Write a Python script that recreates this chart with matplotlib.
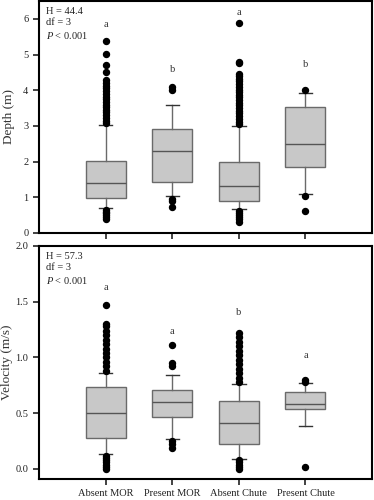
import matplotlib

matplotlib.use("Agg")

import matplotlib.pyplot as plt

plt.rcParams["font.family"] = ["Liberation Serif", "DejaVu Serif"]
plt.rcParams["mathtext.fontset"] = "custom"
plt.rcParams["mathtext.it"] = "Liberation Serif:italic"
plt.rcParams["mathtext.rm"] = "Liberation Serif"

GROUPS = ["Absent MOR", "Present MOR", "Absent Chute", "Present Chute"]

# depth (m): q1, median, q3, whisker low, whisker high
DEPTH_Q1 = [0.97, 1.43, 0.90, 1.85]
DEPTH_MED = [1.40, 2.30, 1.33, 2.50]
DEPTH_Q3 = [2.03, 2.90, 2.00, 3.53]
DEPTH_WLO = [0.70, 1.03, 0.67, 1.08]
DEPTH_WHI = [3.03, 3.60, 3.00, 3.93]
DEPTH_FLIERS = [
    [0.40, 0.45, 0.50, 0.55, 0.60, 0.65, 3.08, 3.15, 3.22, 3.30, 3.38, 3.45,
     3.52, 3.60, 3.68, 3.75, 3.82, 3.90, 3.97, 4.05, 4.12, 4.20, 4.28, 4.50,
     4.70, 5.02, 5.37],
    [0.72, 0.90, 0.95, 4.00, 4.10],
    [0.32, 0.38, 0.44, 0.50, 0.56, 0.62, 3.05, 3.12, 3.20, 3.28, 3.35, 3.42,
     3.50, 3.58, 3.65, 3.72, 3.80, 3.88, 3.95, 4.02, 4.10, 4.18, 4.25, 4.32,
     4.40, 4.45, 4.75, 4.80, 5.87],
    [0.63, 1.03, 4.00],
]
DEPTH_LETTERS = ["a", "b", "a", "b"]
DEPTH_LETTER_Y = [5.83, 4.57, 6.19, 4.72]
DEPTH_STATS = ["H = 44.4", "df = 3", "$\\mathit{P}$ < 0.001"]

# velocity (m/s)
VEL_Q1 = [0.278, 0.463, 0.220, 0.538]
VEL_MED = [0.500, 0.600, 0.410, 0.586]
VEL_Q3 = [0.733, 0.706, 0.607, 0.688]
VEL_WLO = [0.130, 0.270, 0.090, 0.383]
VEL_WHI = [0.860, 0.840, 0.760, 0.768]
VEL_FLIERS = [
    [0.00, 0.02, 0.04, 0.06, 0.08, 0.10, 0.12, 0.88, 0.92, 0.96, 1.00, 1.04,
     1.08, 1.12, 1.16, 1.20, 1.24, 1.28, 1.30, 1.47],
    [0.19, 0.22, 0.25, 0.92, 0.95, 1.11],
    [0.00, 0.02, 0.04, 0.06, 0.08, 0.78, 0.82, 0.86, 0.90, 0.94, 0.98, 1.02,
     1.06, 1.10, 1.14, 1.18, 1.22],
    [0.02, 0.78, 0.80],
]
VEL_LETTERS = ["a", "a", "b", "a"]
VEL_LETTER_Y = [1.63, 1.23, 1.405, 1.02]
VEL_STATS = ["H = 57.3", "df = 3", "$\\mathit{P}$ < 0.001"]


def make_stats(q1, med, q3, wlo, whi, fliers):
    return [
        {"q1": a, "med": b, "q3": c, "whislo": d, "whishi": e, "fliers": f}
        for a, b, c, d, e, f in zip(q1, med, q3, wlo, whi, fliers)
    ]


def draw_panel(ax, stats, letters, letter_y, stat_lines, ylim, yticks, ylabel, label_x):
    positions = list(range(1, len(stats) + 1))
    ax.bxp(
        stats,
        positions=positions,
        widths=0.6,
        capwidths=0.2,
        patch_artist=True,
        boxprops=dict(facecolor="#c8c8c8", edgecolor="#6a6a6a", linewidth=1.0),
        medianprops=dict(color="#555555", linewidth=1.0),
        whiskerprops=dict(color="#6a6a6a", linewidth=1.0),
        capprops=dict(color="#333333", linewidth=1.0),
        flierprops=dict(marker="o", markerfacecolor="black", markeredgecolor="black",
                        markersize=4.3, linestyle="none"),
    )
    for x, letter, y in zip(positions, letters, letter_y):
        ax.text(x, y, letter, ha="center", va="center", fontsize=7.5, color="#333333")
    ax.text(0.022, 0.975, "\n".join(stat_lines), transform=ax.transAxes,
            ha="left", va="top", fontsize=7.5, linespacing=1.3, color="#222222")
    ax.set_xlim(0, 5)
    ax.set_ylim(*ylim)
    ax.set_yticks(yticks)
    ax.set_ylabel(ylabel, fontsize=9.5, color="#333333", va="center")
    ax.yaxis.set_label_coords(label_x, 0.5)
    ax.tick_params(direction="out", length=4, width=1.2, labelsize=7.5,
                   colors="#222222")
    for spine in ax.spines.values():
        spine.set_linewidth(1.5)


fig = plt.figure(figsize=(3.74, 5.0), dpi=100)
ax_top = fig.add_axes([0.104, 0.534, 0.891, 0.464])
ax_bot = fig.add_axes([0.104, 0.042, 0.891, 0.466])

draw_panel(ax_top, make_stats(DEPTH_Q1, DEPTH_MED, DEPTH_Q3, DEPTH_WLO, DEPTH_WHI, DEPTH_FLIERS),
           DEPTH_LETTERS, DEPTH_LETTER_Y, DEPTH_STATS, (0, 6.5), range(0, 7), "Depth (m)",
           -0.09)
ax_top.set_xticks(range(1, 5))
ax_top.set_xticklabels([])

draw_panel(ax_bot, make_stats(VEL_Q1, VEL_MED, VEL_Q3, VEL_WLO, VEL_WHI, VEL_FLIERS),
           VEL_LETTERS, VEL_LETTER_Y, VEL_STATS, (-0.09, 2.0), [0.0, 0.5, 1.0, 1.5, 2.0],
           "Velocity (m/s)", -0.095)
ax_bot.set_yticklabels(["0.0", "0.5", "1.0", "1.5", "2.0"])
ax_bot.set_xticks(range(1, 5))
ax_bot.set_xticklabels(GROUPS, fontsize=7.5)

fig.savefig("out.png", dpi=100)
plt.close(fig)
